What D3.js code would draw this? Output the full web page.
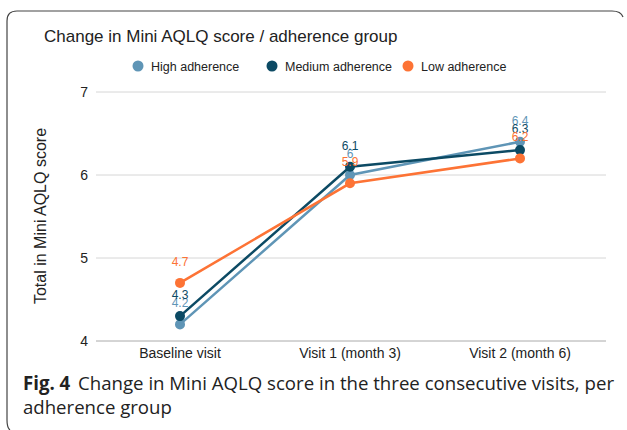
<!DOCTYPE html>
<html>
<head>
<meta charset="utf-8">
<style>
body { margin: 0; background: #fff; }
text { font-family: "Liberation Sans", Arial, sans-serif; }
.caption { font-family: "Open Sans", "Noto Sans", sans-serif; }
</style>
</head>
<body>
<svg width="627" height="430"></svg>
<script src="https://d3js.org/d3.v7.min.js"></script>
<script>

var visits = ["Baseline visit", "Visit 1 (month 3)", "Visit 2 (month 6)"];
var groups = ["High adherence", "Medium adherence", "Low adherence"];
var highScores = [4.2, 6.0, 6.4];
var mediumScores = [4.3, 6.1, 6.3];
var lowScores = [4.7, 5.9, 6.2];
var yTicks = [4, 5, 6, 7];

var colors = ["#5f95b6", "#0c4a64", "#fd7335"];

var svg = d3.select("svg");

var series = [
  {name: groups[0], values: highScores, color: colors[0]},
  {name: groups[1], values: mediumScores, color: colors[1]},
  {name: groups[2], values: lowScores, color: colors[2]}
];

// frame
svg.append("path")
    .attr("d", "M7,420 Q7,428 10,430 M7,420 V21 Q7,11 17,11 H612 Q621,11 623,17")
    .attr("fill", "none")
    .attr("stroke", "#444")
    .attr("stroke-width", 1.2);

var x = d3.scalePoint()
    .domain(visits)
    .range([180, 520]);

var y = d3.scaleLinear()
    .domain([4, 7])
    .range([341, 92]);

// gridlines
svg.append("g")
  .selectAll("line")
  .data(yTicks)
  .enter().append("line")
    .attr("x1", 96)
    .attr("x2", 606)
    .attr("y1", function(d) { return y(d); })
    .attr("y2", function(d) { return y(d); })
    .attr("stroke", function(d) { return d == 4 ? "#aaa" : "#d6d6d6"; })
    .attr("stroke-width", 1);

svg.append("g")
  .selectAll("text")
  .data(yTicks)
  .enter().append("text")
    .attr("x", 88)
    .attr("y", function(d) { return y(d) + 5; })
    .attr("text-anchor", "end")
    .attr("font-size", 14)
    .attr("fill", "#222")
    .text(function(d) { return d; });

svg.append("g")
  .selectAll("text")
  .data(visits)
  .enter().append("text")
    .attr("x", function(d) { return x(d); })
    .attr("y", 358)
    .attr("text-anchor", "middle")
    .attr("font-size", 14)
    .attr("fill", "#222")
    .text(function(d) { return d; });

// title
svg.append("text")
    .attr("x", 44)
    .attr("y", 42)
    .attr("font-size", 17)
    .attr("fill", "#222")
    .text("Change in Mini AQLQ score / adherence group");

svg.append("text")
    .attr("transform", "translate(46,216) rotate(-90)")
    .attr("text-anchor", "middle")
    .attr("font-size", 16)
    .attr("fill", "#222")
    .text("Total in Mini AQLQ score");

// legend
var legendX = [138, 272, 408];
var legend = svg.append("g")
  .selectAll("g")
  .data(series)
  .enter().append("g")
    .attr("transform", function(d, i) { return "translate(" + legendX[i] + ",66)"; });
legend.append("circle")
    .attr("r", 5.5)
    .attr("fill", function(d) { return d.color; });
legend.append("text")
    .attr("x", 13)
    .attr("y", 4.5)
    .attr("font-size", 12.5)
    .attr("fill", "#222")
    .text(function(d) { return d.name; });

var line = d3.line()
    .x(function(d, i) { return x(visits[i]); })
    .y(function(d) { return y(d); });

var g = svg.append("g")
  .selectAll("g")
  .data(series)
  .enter().append("g");

g.append("path")
    .attr("d", function(d) { return line(d.values); })
    .attr("fill", "none")
    .attr("stroke", function(d) { return d.color; })
    .attr("stroke-width", 2.5);

g.selectAll("circle")
  .data(function(d) { return d.values.map(function(v, i) { return {v: v, i: i, color: d.color}; }); })
  .enter().append("circle")
    .attr("cx", function(d) { return x(visits[d.i]); })
    .attr("cy", function(d) { return y(d.v); })
    .attr("r", 5)
    .attr("fill", function(d) { return d.color; });

g.selectAll("text")
  .data(function(d) { return d.values.map(function(v, i) { return {v: v, i: i, color: d.color}; }); })
  .enter().append("text")
    .attr("x", function(d) { return x(visits[d.i]); })
    .attr("y", function(d) { return y(d.v) - 17; })
    .attr("text-anchor", "middle")
    .attr("font-size", 12)
    .attr("fill", function(d) { return d.color; })
    .text(function(d) { return d.v; });

// caption
var cap = svg.append("text")
    .attr("class", "caption")
    .attr("x", 23)
    .attr("y", 390)
    .attr("font-size", 19)
    .attr("textLength", 591)
    .attr("lengthAdjust", "spacingAndGlyphs")
    .attr("fill", "#222");
cap.append("tspan")
    .attr("font-weight", "bold")
    .text("Fig. 4");
cap.append("tspan")
    .attr("dx", 8)
    .text("Change in Mini AQLQ score in the three consecutive visits, per");

svg.append("text")
    .attr("class", "caption")
    .attr("x", 23)
    .attr("y", 414)
    .attr("font-size", 18.6)
    .attr("fill", "#222")
    .text("adherence group");

</script>
</body>
</html>
